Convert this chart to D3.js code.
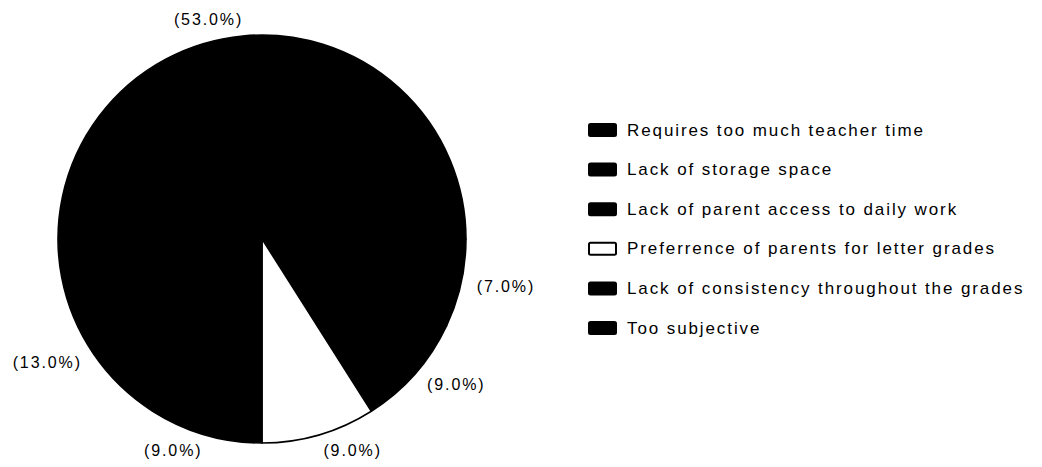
<!DOCTYPE html>
<html>
<head>
<meta charset="utf-8">
<script src="https://cdn.jsdelivr.net/npm/d3@7/dist/d3.min.js"></script>
<style>
  html, body { margin: 0; padding: 0; background: #fff; }
  svg { display: block; }
  text { font-family: "Liberation Sans", Arial, Helvetica, sans-serif; fill: #000; }
</style>
</head>
<body>
<svg id="chart" width="1042" height="467"></svg>
<script>
// ---- data ----
const categories = [
  "Requires too much teacher time",
  "Lack of storage space",
  "Lack of parent access to daily work",
  "Preferrence of parents for letter grades",
  "Lack of consistency throughout the grades",
  "Too subjective"
];
const values = [53.0, 7.0, 9.0, 9.0, 9.0, 13.0];
const labels = ["(53.0%)", "(7.0%)", "(9.0%)", "(9.0%)", "(9.0%)", "(13.0%)"];
const colors = ["#000000", "#000000", "#000000", "#ffffff", "#000000", "#000000"];

// ---- layout ----
const svg = d3.select("#chart");
const cx = 262, cy = 239, r = 204, labelR = 220;
const total = d3.sum(values);
const start = Math.PI / 2 - 2 * Math.PI * (values[0] / total);

const pie = d3.pie().sort(null).value(d => d)
  .startAngle(start).endAngle(start + 2 * Math.PI);
const arcs = pie(values);
const arc = d3.arc().innerRadius(0).outerRadius(r);

const g = svg.append("g").attr("transform", `translate(${cx},${cy})`);

g.selectAll("path.slice").data(arcs).join("path")
  .attr("class", "slice")
  .attr("d", arc)
  .attr("fill", (d, i) => colors[i])
  .attr("stroke", "#000")
  .attr("stroke-width", 1.5)
  .attr("stroke-linejoin", "round");

const ls = 1.9;
g.selectAll("text.lbl").data(arcs).join("text")
  .attr("class", "lbl")
  .each(function (d, i) {
    const a = (d.startAngle + d.endAngle) / 2;
    const x = labelR * Math.sin(a);
    const y = -labelR * Math.cos(a);
    const right = Math.sin(a) >= 0;
    d3.select(this)
      .attr("x", right ? x : x + ls)
      .attr("y", y)
      .attr("text-anchor", right ? "start" : "end")
      .attr("dominant-baseline", "central");
  })
  .style("font-size", "16px")
  .style("letter-spacing", ls + "px")
  .text((d, i) => labels[i]);

// ---- legend ----
const legY = d3.scalePoint().domain(d3.range(categories.length)).range([130, 328]);
const leg = svg.append("g");
const rows = leg.selectAll("g.row").data(categories).join("g")
  .attr("class", "row")
  .attr("transform", (d, i) => `translate(588,${legY(i)})`);

rows.append("rect")
  .attr("x", 1).attr("y", -6)
  .attr("width", 27).attr("height", 12)
  .attr("rx", 1.5)
  .attr("fill", (d, i) => colors[i])
  .attr("stroke", "#000")
  .attr("stroke-width", 2);

rows.append("text")
  .attr("x", 39)
  .attr("y", 0)
  .attr("dominant-baseline", "central")
  .style("font-size", "17px")
  .style("letter-spacing", "1.9px")
  .text(d => d);
</script>
</body>
</html>
